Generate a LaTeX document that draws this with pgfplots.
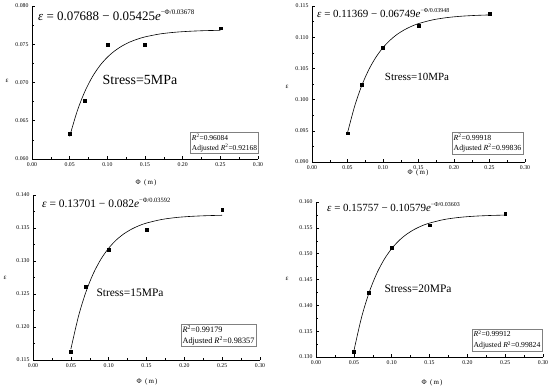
\documentclass[border=0pt]{standalone}
\usepackage{fontspec}
\setmainfont{Liberation Serif}
\usepackage{pgfplots}
\pgfplotsset{compat=1.18}
\pgfplotsset{
  panel/.style={
    scale only axis,
    axis x line*=bottom, axis y line*=left,
    tick align=inside,
    xmin=0, xmax=0.3,
    xtick={0,0.05,0.1,0.15,0.2,0.25,0.3},
    minor tick num=1,
    major tick length=3bp, minor tick length=1.6bp,
    axis line style={line width=0.6bp},
    every tick/.style={black, line width=0.5bp},
    /pgf/number format/assume math mode=true,
    ticklabel style={font=\fontsize{5.8}{7}\selectfont},
    xticklabel style={/pgf/number format/fixed, /pgf/number format/fixed zerofill, /pgf/number format/precision=2},
    yticklabel style={/pgf/number format/fixed, /pgf/number format/fixed zerofill, /pgf/number format/precision=3},
    scaled ticks=false,
  },
  fit/.style={black, line width=0.6bp, smooth, no marks},
  pts/.style={only marks, mark=square*, mark size=1.4bp, black},
}
\newcommand{\supx}[2]{\raisebox{0.45em}{\fontsize{#1}{#1}\selectfont #2}}
\newcommand{\xlab}{Φ\hspace{0.5em}(\hspace{0.15em}m\hspace{0.15em})}
\begin{document}
\begin{tikzpicture}[x=1bp,y=1bp]
\useasboundingbox (0,0) rectangle (550,387);

% Panel 1
\begin{axis}[panel, at={(32bp,228bp)}, width=226bp, height=153bp,
  ymin=0.060, ymax=0.080, ytick={0.060,0.065,0.070,0.075,0.080}]
\addplot[fit] coordinates {(0.05,0.06295)(0.06,0.06626)(0.07,0.06879)(0.08,0.07072)(0.09,0.07219)(0.10,0.07330)(0.11,0.07415)(0.12,0.07480)(0.13,0.07530)(0.14,0.07567)(0.15,0.07596)(0.17,0.07635)(0.19,0.07657)(0.21,0.07670)(0.23,0.07678)(0.25,0.07682)};
\addplot[pts] coordinates {(0.05,0.0633)(0.07,0.0676)(0.10,0.0749)(0.15,0.0749)(0.25,0.0771)};
\end{axis}

% Panel 2
\begin{axis}[panel, at={(312bp,225bp)}, width=213bp, height=156bp,
  ymin=0.090, ymax=0.115, ytick={0.090,0.095,0.100,0.105,0.110,0.115}]
\addplot[fit] coordinates {(0.05,0.09467)(0.06,0.09892)(0.07,0.10223)(0.08,0.10480)(0.09,0.10679)(0.10,0.10833)(0.11,0.10953)(0.12,0.11046)(0.13,0.11118)(0.14,0.11174)(0.15,0.11218)(0.17,0.11278)(0.19,0.11314)(0.21,0.11336)(0.23,0.11349)(0.25,0.11357)};
\addplot[pts] coordinates {(0.05,0.0946)(0.07,0.1024)(0.10,0.1083)(0.15,0.1119)(0.25,0.1138)};
\end{axis}

% Panel 3
\begin{axis}[panel, at={(33bp,27bp)}, width=227bp, height=165bp,
  ymin=0.115, ymax=0.140, ytick={0.115,0.120,0.125,0.130,0.135,0.140}]
\addplot[fit] coordinates {(0.05,0.11663)(0.06,0.12158)(0.07,0.12533)(0.08,0.12817)(0.09,0.13032)(0.10,0.13194)(0.11,0.13318)(0.12,0.13411)(0.13,0.13481)(0.14,0.13535)(0.15,0.13575)(0.17,0.13629)(0.19,0.13660)(0.21,0.13677)(0.23,0.13687)(0.25,0.13693)};
\addplot[pts] coordinates {(0.05,0.1163)(0.07,0.1261)(0.10,0.1317)(0.15,0.1348)(0.25,0.1378)};
\end{axis}

% Panel 4
\begin{axis}[panel, at={(316bp,30bp)}, width=227bp, height=155bp,
  ymin=0.130, ymax=0.160, ytick={0.130,0.135,0.140,0.145,0.150,0.155,0.160}]
\addplot[fit] coordinates {(0.05,0.13115)(0.06,0.13757)(0.07,0.14241)(0.08,0.14608)(0.09,0.14887)(0.10,0.15098)(0.11,0.15258)(0.12,0.15379)(0.13,0.15470)(0.14,0.15540)(0.15,0.15592)(0.17,0.15663)(0.19,0.15703)(0.21,0.15726)(0.23,0.15739)(0.25,0.15747)};
\addplot[pts] coordinates {(0.05,0.1311)(0.07,0.1425)(0.10,0.1511)(0.15,0.1555)(0.25,0.1578)};
\end{axis}

% Equations
\node[anchor=west, inner sep=0, font=\fontsize{13}{15}\selectfont] at (38,372) {\textit{ε} = 0.07688 − 0.05425\textit{e}\supx{7}{−Φ/0.03678}};
\node[anchor=west, inner sep=0, font=\fontsize{11}{13}\selectfont] at (317,374) {\textit{ε} = 0.11369 − 0.06749\textit{e}\supx{6}{−Φ/0.03948}};
\node[anchor=west, inner sep=0, font=\fontsize{11.5}{13}\selectfont] at (42,184) {\textit{ε} = 0.13701 − 0.082\textit{e}\supx{6.5}{−Φ/0.03592}};
\node[anchor=west, inner sep=0, font=\fontsize{11}{13}\selectfont] at (327,180) {\textit{ε} = 0.15757 − 0.10579\textit{e}\supx{6}{−Φ/0.03603}};

% Stress labels
\node[font=\fontsize{14}{16}\selectfont] at (140,307) {Stress=5MPa};
\node[font=\fontsize{11}{13}\selectfont] at (417,310) {Stress=10MPa};
\node[font=\fontsize{11.5}{13}\selectfont] at (130,94) {Stress=15MPa};
\node[font=\fontsize{11.5}{13}\selectfont] at (418,98) {Stress=20MPa};

% R2 boxes
\node[draw=gray, line width=0.5bp, align=left, inner sep=1.5bp, font=\fontsize{7.5}{9.5}\selectfont] at (224.5,244) {\textit{R}\textsuperscript{2}=0.96084\\Adjusted \textit{R}\textsuperscript{2}=0.92168};
\node[draw=gray, line width=0.5bp, align=left, inner sep=1.5bp, font=\fontsize{7.8}{10.5}\selectfont] at (487.5,244) {\textit{R}\textsuperscript{2}=0.99918\\Adjusted \textit{R}\textsuperscript{2}=0.99836};
\node[draw=gray, line width=0.5bp, align=left, inner sep=1.5bp, font=\fontsize{8.3}{11}\selectfont] at (218.5,51.5) {\textit{R}\textsuperscript{2}=0.99179\\Adjusted \textit{R}\textsuperscript{2}=0.98357};
\node[draw=gray, line width=0.5bp, align=left, inner sep=1.5bp, font=\fontsize{7.7}{11}\selectfont] at (507,47) {\textit{R}\textsuperscript{2}=0.99912\\Adjusted \textit{R}\textsuperscript{2}=0.99824};

% Axis labels
\node[font=\fontsize{7}{8}\selectfont] at (7,306) {ε};
\node[font=\fontsize{7}{8}\selectfont] at (287,300) {ε};
\node[font=\fontsize{7}{8}\selectfont] at (5,109) {ε};
\node[font=\fontsize{7}{8}\selectfont] at (287,108) {ε};
\node[font=\fontsize{7}{8}\selectfont] at (146,204) {\xlab};
\node[font=\fontsize{7}{8}\selectfont] at (418,214) {\xlab};
\node[font=\fontsize{7}{8}\selectfont] at (147,5) {\xlab};
\node[font=\fontsize{7}{8}\selectfont] at (432,4) {\xlab};
\end{tikzpicture}
\end{document}
